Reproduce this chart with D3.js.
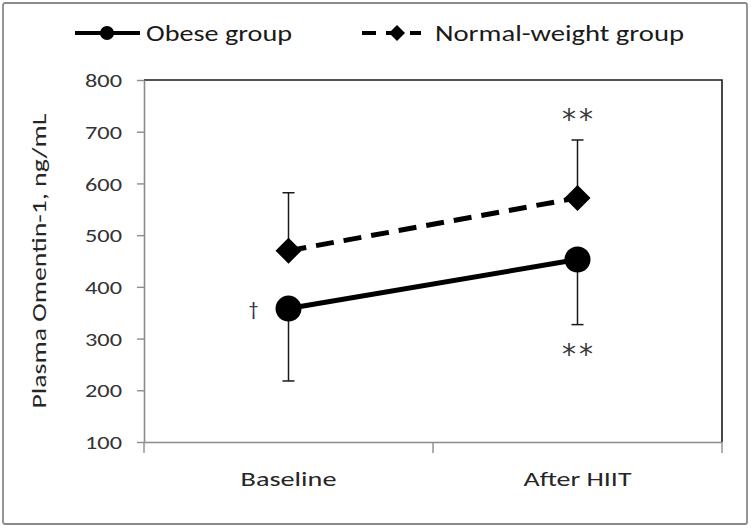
<!DOCTYPE html>
<html>
<head>
<meta charset="utf-8">
<script src="https://cdn.jsdelivr.net/npm/d3@7/dist/d3.min.js"></script>
<style>
  html, body { margin: 0; padding: 0; background: #fff; }
  svg { display: block; }
  text { font-family: Carlito, "Open Sans", sans-serif; }
</style>
</head>
<body>
<script>
const categories = ["Baseline", "After HIIT"];
const obeseMean = [358, 453];
const obeseSD = [140, 126];
const normalMean = [470, 572];
const normalSD = [112, 112];
const yTicks = [100, 200, 300, 400, 500, 600, 700, 800];
const seriesNames = ["Obese group", "Normal-weight group"];
const obeseMarks = ["†", "**"];
const normalMarks = ["", "**"];

const W = 751, H = 528;
const L = 144, R = 722, T = 80, B = 442;

const svg = d3.select("body").append("svg").attr("width", W).attr("height", H);

// outer frame
svg.append("rect").attr("x", 3).attr("y", 3).attr("width", 744).attr("height", 521)
  .attr("rx", 2).attr("fill", "#fff").attr("stroke", "#8a8a8a").attr("stroke-width", 1.8);

const x = d3.scaleBand().domain(categories).range([L, R]);
const y = d3.scaleLinear().domain([100, 800]).range([B, T]);
const cx = c => x(c) + x.bandwidth() / 2;

// plot border top & right
svg.append("path").attr("d", `M${L},${T}H${R}V${B}`).attr("fill", "none")
  .attr("stroke", "#1a1a1a").attr("stroke-width", 1.6);

// y axis
const yAxis = svg.append("g").attr("transform", `translate(${L},0)`)
  .call(d3.axisLeft(y).tickValues(yTicks).tickSize(7).tickPadding(15).tickSizeOuter(0));
yAxis.select(".domain").attr("stroke", "#8c8c8c").attr("stroke-width", 1.6);
yAxis.selectAll(".tick line").attr("stroke", "#8c8c8c").attr("stroke-width", 1.4);
yAxis.selectAll(".tick text").attr("font-size", 19).attr("fill", "#333")
  .attr("textLength", 37).attr("lengthAdjust", "spacingAndGlyphs").attr("dy", "0.35em");

// x axis
const xAxis = svg.append("g").attr("transform", `translate(0,${B})`)
  .call(d3.axisBottom(x).tickSize(0).tickPadding(37).tickSizeOuter(0));
xAxis.select(".domain").attr("stroke", "#8c8c8c").attr("stroke-width", 1.6);
xAxis.selectAll(".tick text").attr("font-size", 20).attr("fill", "#262626")
  .attr("dy", "0.35em")
  .attr("textLength", d => d === "Baseline" ? 96 : 108)
  .attr("lengthAdjust", "spacingAndGlyphs");
// category boundary ticks
const edges = [x.range()[0], x(categories[1]), x.range()[1]];
svg.selectAll("line.xedge").data(edges).join("line").attr("class", "xedge")
  .attr("x1", d => d).attr("x2", d => d).attr("y1", B).attr("y2", B + 11)
  .attr("stroke", "#8c8c8c").attr("stroke-width", 1.4);

// y axis title
svg.append("text").attr("transform", `translate(46,${(T + B) / 2}) rotate(-90)`)
  .attr("text-anchor", "middle").attr("font-size", 21).attr("fill", "#262626")
  .attr("textLength", 295).attr("lengthAdjust", "spacingAndGlyphs")
  .text("Plasma Omentin-1, ng/mL");

// error bars
function errBars(means, sds, dir) {
  const g = svg.append("g");
  categories.forEach((c, i) => {
    const yEnd = y(means[i] + dir * sds[i]);
    g.append("line").attr("x1", cx(c)).attr("x2", cx(c)).attr("y1", y(means[i])).attr("y2", yEnd)
      .attr("stroke", "#1a1a1a").attr("stroke-width", 1.5);
    g.append("line").attr("x1", cx(c) - 6).attr("x2", cx(c) + 6).attr("y1", yEnd).attr("y2", yEnd)
      .attr("stroke", "#1a1a1a").attr("stroke-width", 1.5);
  });
}
errBars(normalMean, normalSD, 1);
errBars(obeseMean, obeseSD, -1);

// lines
const line = d3.line().x((d, i) => cx(categories[i])).y(d => y(d));
svg.append("path").datum(normalMean).attr("d", line).attr("fill", "none")
  .attr("stroke", "#000").attr("stroke-width", 5).attr("stroke-dasharray", "18,10");
svg.append("path").datum(obeseMean).attr("d", line).attr("fill", "none")
  .attr("stroke", "#000").attr("stroke-width", 5);

// markers
const diamond = s => `M0,${-s}L${s},0L0,${s}L${-s},0Z`;
svg.selectAll("path.dia").data(normalMean).join("path").attr("class", "dia")
  .attr("transform", (d, i) => `translate(${cx(categories[i])},${y(d)})`)
  .attr("d", diamond(13)).attr("fill", "#000");
svg.selectAll("circle.obs").data(obeseMean).join("circle").attr("class", "obs")
  .attr("cx", (d, i) => cx(categories[i])).attr("cy", d => y(d)).attr("r", 13).attr("fill", "#000");

// significance marks
function stars(xc, yc, str) {
  const chars = str.split("");
  chars.forEach((ch, k) => {
    svg.append("text").attr("x", xc + (k - (chars.length - 1) / 2) * 17).attr("y", yc + 16)
      .attr("text-anchor", "middle").attr("font-size", 28).attr("fill", "#3a3a3a")
      .style("font-family", "'DejaVu Sans', sans-serif").text(ch);
  });
}
categories.forEach((c, i) => {
  if (normalMarks[i]) stars(cx(c), y(normalMean[i] + normalSD[i]) - 27, normalMarks[i]);
  if (obeseMarks[i] === "†") {
    svg.append("text").attr("x", cx(c) - 35).attr("y", y(obeseMean[i]))
      .attr("text-anchor", "middle").attr("font-size", 20).attr("fill", "#1f2f4a")
      .attr("dy", "0.35em").text(obeseMarks[i]);
  } else if (obeseMarks[i]) {
    stars(cx(c), y(obeseMean[i] - obeseSD[i]) + 23, obeseMarks[i]);
  }
});

// legend
const lg = svg.append("g");
const ly = 33;
lg.append("line").attr("x1", 75).attr("x2", 140).attr("y1", ly).attr("y2", ly)
  .attr("stroke", "#000").attr("stroke-width", 4);
lg.append("circle").attr("cx", 107).attr("cy", ly).attr("r", 7).attr("fill", "#000");
lg.append("text").attr("x", 146).attr("y", ly).attr("dy", "0.35em").attr("font-size", 23)
  .attr("fill", "#1a1a1a").attr("textLength", 146).attr("lengthAdjust", "spacingAndGlyphs")
  .text(seriesNames[0]);
lg.append("line").attr("x1", 362).attr("x2", 421).attr("y1", ly).attr("y2", ly)
  .attr("stroke", "#000").attr("stroke-width", 4).attr("stroke-dasharray", "14,10");
lg.append("path").attr("transform", `translate(397,${ly})`).attr("d", diamond(8)).attr("fill", "#000");
lg.append("text").attr("x", 435).attr("y", ly).attr("dy", "0.35em").attr("font-size", 23)
  .attr("fill", "#1a1a1a").attr("textLength", 249).attr("lengthAdjust", "spacingAndGlyphs")
  .text(seriesNames[1]);
</script>
</body>
</html>
